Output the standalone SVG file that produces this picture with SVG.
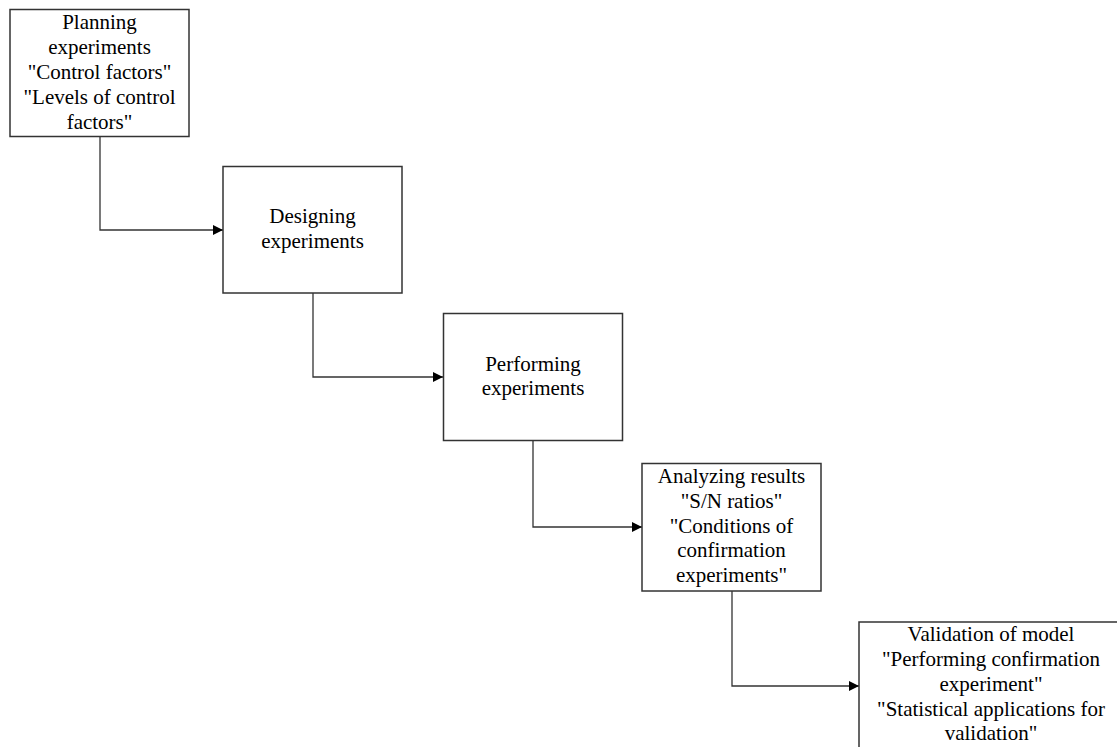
<svg xmlns="http://www.w3.org/2000/svg" width="1117" height="747" viewBox="0 0 1117 747">
<style>
.box{fill:#fff;stroke:#333;stroke-width:1.5}
.lbl{font-family:"Liberation Serif","Times New Roman",serif;font-size:21px;fill:#000;text-anchor:middle}
.con{fill:none;stroke:#333;stroke-width:1.3}
</style>
<defs>
<marker id="arr" viewBox="0 0 10 10" refX="10" refY="5" markerWidth="10" markerHeight="10" markerUnits="userSpaceOnUse" orient="auto">
<path d="M0,0 L10,5 L0,10 Z" fill="#000"/>
</marker>
</defs>
<rect width="1117" height="747" fill="#fff"/>
<g id="connectors">
<path class="con" d="M100,137 V230 H223" marker-end="url(#arr)"/>
<path class="con" d="M313,293 V377 H443" marker-end="url(#arr)"/>
<path class="con" d="M533,441 V527 H642" marker-end="url(#arr)"/>
<path class="con" d="M732,591 V686 H859" marker-end="url(#arr)"/>
</g>
<g id="n1">
<rect class="box" x="10" y="9.5" width="179" height="127"/>
<text class="lbl"><tspan x="99.5" y="28.5">Planning</tspan><tspan x="99.5" y="53.5">experiments</tspan><tspan x="99.5" y="78.5">"Control factors"</tspan><tspan x="99.5" y="103.5">"Levels of control</tspan><tspan x="99.5" y="128.5">factors"</tspan></text>
</g>
<g id="n2">
<rect class="box" x="223" y="166.5" width="179" height="126.5"/>
<text class="lbl"><tspan x="312.5" y="222.5">Designing</tspan><tspan x="312.5" y="247.5">experiments</tspan></text>
</g>
<g id="n3">
<rect class="box" x="443.5" y="313.5" width="179" height="127"/>
<text class="lbl"><tspan x="533" y="370.5">Performing</tspan><tspan x="533" y="395">experiments</tspan></text>
</g>
<g id="n4">
<rect class="box" x="642" y="463.5" width="179" height="127.5"/>
<text class="lbl"><tspan x="731.5" y="482.5">Analyzing results</tspan><tspan x="731.5" y="507.5">"S/N ratios"</tspan><tspan x="731.5" y="532.5">"Conditions of</tspan><tspan x="731.5" y="557">confirmation</tspan><tspan x="731.5" y="581.5">experiments"</tspan></text>
</g>
<g id="n5">
<rect class="box" x="859" y="622" width="266" height="140"/>
<text class="lbl"><tspan x="991" y="640.5">Validation of model</tspan><tspan x="991" y="665.5">"Performing confirmation</tspan><tspan x="991" y="690.5">experiment"</tspan><tspan x="991" y="715.5">"Statistical applications for</tspan><tspan x="991" y="740">validation"</tspan></text>
</g>
</svg>
